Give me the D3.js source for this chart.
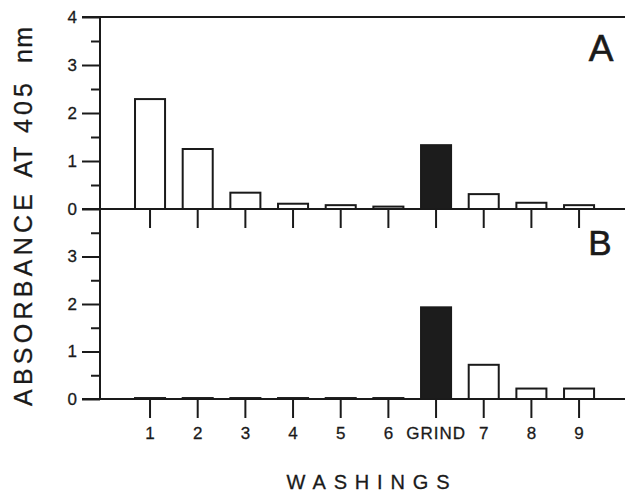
<!DOCTYPE html>
<html>
<head>
<meta charset="utf-8">
<script src="https://cdn.jsdelivr.net/npm/d3@7"></script>
<style>
  body { margin: 0; background: #fff; }
  text { font-family: "Liberation Sans", Arial, sans-serif; fill: #1a1a1a; }
</style>
</head>
<body>
<script>
// washings data
const categories = ["1", "2", "3", "4", "5", "6", "GRIND", "7", "8", "9"];
const valuesA = [2.29, 1.25, 0.34, 0.11, 0.08, 0.05, 1.33, 0.31, 0.13, 0.08];
const valuesB = [0.02, 0.02, 0.02, 0.02, 0.02, 0.02, 1.93, 0.72, 0.22, 0.22];
const majorTicksA = [0, 1, 2, 3, 4];
const majorTicksB = [0, 1, 2, 3];
const minorTicks = [0.5, 1.5, 2.5, 3.5];
const yTitleWords = ["ABSORBANCE", "AT", "405", "nm"];

const width = 625, height = 496;
const ink = "#1a1a1a";
const axisX = 100;

const svg = d3.select("body").append("svg")
    .attr("width", width)
    .attr("height", height);

const x = d3.scaleBand()
    .domain(categories)
    .range([126.2, 602.9])
    .paddingInner(0.37)
    .paddingOuter(0.185);

const yA = d3.scaleLinear().domain([0, 4]).range([209, 17]);
const yB = d3.scaleLinear().domain([0, 4]).range([399, 209]);

// long horizontal rules (top frame, zero lines)
[yA(4), yA(0), yB(0)].forEach(yy => {
    svg.append("line")
        .attr("x1", 82).attr("x2", width)
        .attr("y1", yy).attr("y2", yy)
        .attr("stroke", ink).attr("stroke-width", 2);
});

// vertical axis line
svg.append("line")
    .attr("x1", axisX).attr("x2", axisX)
    .attr("y1", yA(4)).attr("y2", yB(0))
    .attr("stroke", ink).attr("stroke-width", 2);

function leftAxis(scale, major) {
    const gMaj = svg.append("g")
        .attr("transform", `translate(${axisX},0)`)
        .call(d3.axisLeft(scale).tickValues(major).tickSize(18).tickPadding(5).tickFormat(d3.format("d")));
    const gMin = svg.append("g")
        .attr("transform", `translate(${axisX},0)`)
        .call(d3.axisLeft(scale).tickValues(minorTicks).tickSize(9).tickFormat(""));
    [gMaj, gMin].forEach(g => {
        g.select(".domain").remove();
        g.selectAll("line").attr("stroke", ink).attr("stroke-width", 2);
        g.selectAll("text").attr("font-size", 17).attr("fill", ink)
            .attr("stroke", ink).attr("stroke-width", 0.3);
    });
}
leftAxis(yA, majorTicksA);
leftAxis(yB, majorTicksB);

function bottomAxis(yy, labels) {
    const g = svg.append("g")
        .attr("transform", `translate(0,${yy})`)
        .call(d3.axisBottom(x).tickSize(19).tickPadding(9).tickFormat(labels ? d => d : ""));
    g.select(".domain").remove();
    g.selectAll("line").attr("stroke", ink).attr("stroke-width", 2);
    g.selectAll("text").attr("font-size", 17).attr("fill", ink)
        .attr("stroke", ink).attr("stroke-width", 0.3)
        .attr("letter-spacing", d => d === "GRIND" ? 1 : 0);
}
bottomAxis(yA(0), false);
bottomAxis(yB(0), true);

function bars(values, scale) {
    svg.append("g").selectAll("rect")
        .data(values)
        .join("rect")
        .attr("x", (d, i) => x(categories[i]))
        .attr("width", x.bandwidth())
        .attr("y", d => scale(d))
        .attr("height", d => scale(0) - scale(d))
        .attr("fill", (d, i) => categories[i] === "GRIND" ? "#1c1c1c" : "#fff")
        .attr("stroke", ink)
        .attr("stroke-width", 2);
}
bars(valuesA, yA);
bars(valuesB, yB);

// panel letters
svg.append("text").attr("x", 601).attr("y", 61)
    .attr("text-anchor", "middle").attr("font-size", 37)
    .attr("stroke", ink).attr("stroke-width", 0.6).text("A");
svg.append("text").attr("x", 600).attr("y", 255)
    .attr("text-anchor", "middle").attr("font-size", 35)
    .attr("stroke", ink).attr("stroke-width", 0.6).text("B");

// y title, word by word (centre along y, length)
const titlePos = [[300, 212], [162, 31], [108, 50], [45, 36]];
svg.append("g").selectAll("text")
    .data(yTitleWords)
    .join("text")
    .attr("transform", (d, i) => `translate(32,${titlePos[i][0]}) rotate(-90)`)
    .attr("text-anchor", "middle")
    .attr("font-size", 25)
    .attr("stroke", ink).attr("stroke-width", 0.3)
    .attr("textLength", (d, i) => titlePos[i][1])
    .attr("lengthAdjust", "spacing")
    .text(d => d);

svg.append("text")
    .attr("x", 368).attr("y", 489)
    .attr("text-anchor", "middle")
    .attr("font-size", 20)
    .attr("stroke", ink).attr("stroke-width", 0.3)
    .attr("textLength", 163)
    .attr("lengthAdjust", "spacing")
    .text("WASHINGS");
</script>
</body>
</html>
